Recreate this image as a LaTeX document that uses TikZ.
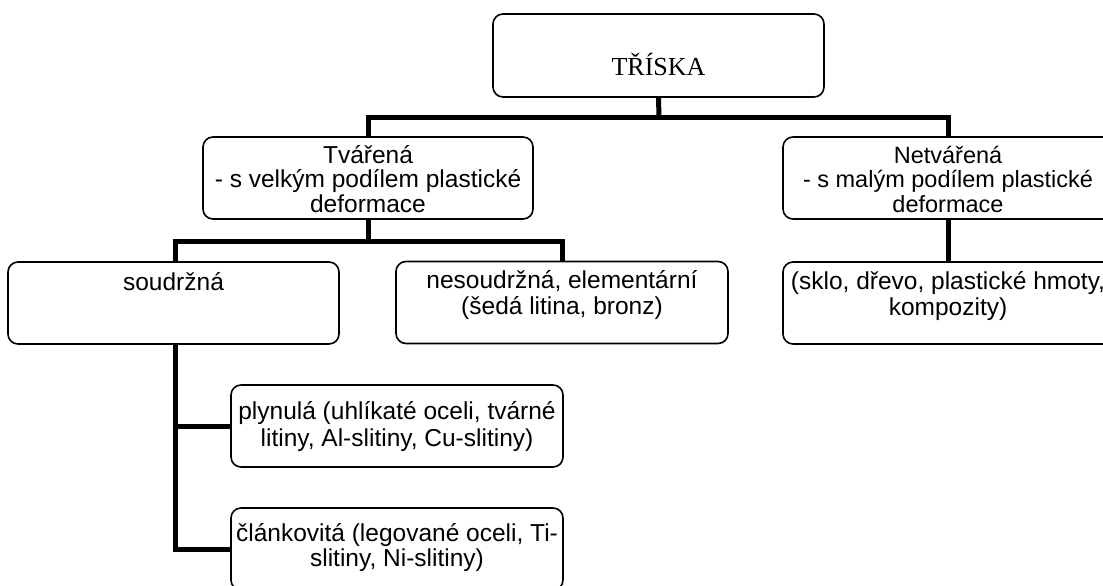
\documentclass[tikz,border=0pt]{standalone}
\usepackage{fontspec}
\setmainfont{Liberation Sans}
\newfontfamily\titlefont{Liberation Serif}
\begin{document}
\begin{tikzpicture}[x=1pt,y=-1pt,
  box/.style={draw, line width=1.6pt, rounded corners=10pt, inner sep=0pt, minimum height=82pt},
  conn/.style={draw, line width=5pt},
  txt/.style={font=\fontsize{24.5}{26}\selectfont, align=center, inner sep=0pt}]
\useasboundingbox (0,0) rectangle (1103,586);
\clip (0,0) rectangle (1103,586);
% boxes
\node[box, minimum width=331pt, minimum height=83pt] (triska) at (658.5,55.5) {};
\node[font=\titlefont\fontsize{26}{30}\selectfont, anchor=base, inner sep=0pt] (triskatxt) at (658.5,75) {TŘÍSKA};
\node[box, minimum width=330pt] (tv) at (368,178) {};
\node[txt, font=\fontsize{24.5}{24.5}\selectfont] (tvtxt) at ([yshift=-1pt]tv.center) {Tvářená\\- s velkým podílem plastické\\deformace};
\node[box, minimum width=330pt] (ntv) at (948,178) {};
\node[txt, font=\fontsize{23.5}{24.5}\selectfont] (ntvtxt) at ([yshift=-1pt]ntv.center) {Netvářená\\- s malým podílem plastické\\deformace};
\node[box, minimum width=331pt] (soud) at (173.5,303) {};
\node[txt, anchor=north] (soudtxt) at ([yshift=-11pt]soud.north) {soudržná};
\node[box, minimum width=332pt] (nesoud) at (562,302.5) {};
\node[txt, anchor=north] (nesoudtxt) at ([yshift=-10pt]nesoud.north) {nesoudržná, elementární\\(šedá litina, bronz)};
\node[box, minimum width=330pt] (sklo) at (948,303) {};
\node[txt, anchor=north] (sklotxt) at ([yshift=-10pt]sklo.north) {(sklo, dřevo, plastické hmoty,\\kompozity)};
\node[box, minimum width=332pt] (plyn) at (397,426) {};
\node[txt, font=\fontsize{24.5}{27}\selectfont] (plyntxt) at ([yshift=-1pt]plyn.center) {plynulá (uhlíkaté oceli, tvárné\\litiny, Al-slitiny, Cu-slitiny)};
\node[box, minimum width=332pt] (clank) at (397,549) {};
\node[txt, anchor=north, font=\fontsize{24.5}{25}\selectfont] (clanktxt) at ([yshift=-16pt]clank.north) {článkovitá (legované oceli, Ti-\\slitiny, Ni-slitiny)};
% junction coordinates
\coordinate (j1) at (659,117);
\coordinate (j2) at (368,241);
\coordinate (j3) at (175,549);
% connectors
\path[conn] (triska.south) -- (j1);
\path[conn] (tv.north) |- (j1) -| (ntv.north);
\path[conn] (tv.south) -- (j2);
\path[conn] (soud.north -| j3) |- (j2) -| (nesoud.north);
\path[conn] (ntv.south) -- (sklo.north);
\path[conn] (soud.south -| j3) -- (j3) -- (clank.west);
\path[conn] (plyn.west) -- (plyn.west -| j3);
\end{tikzpicture}
\end{document}
